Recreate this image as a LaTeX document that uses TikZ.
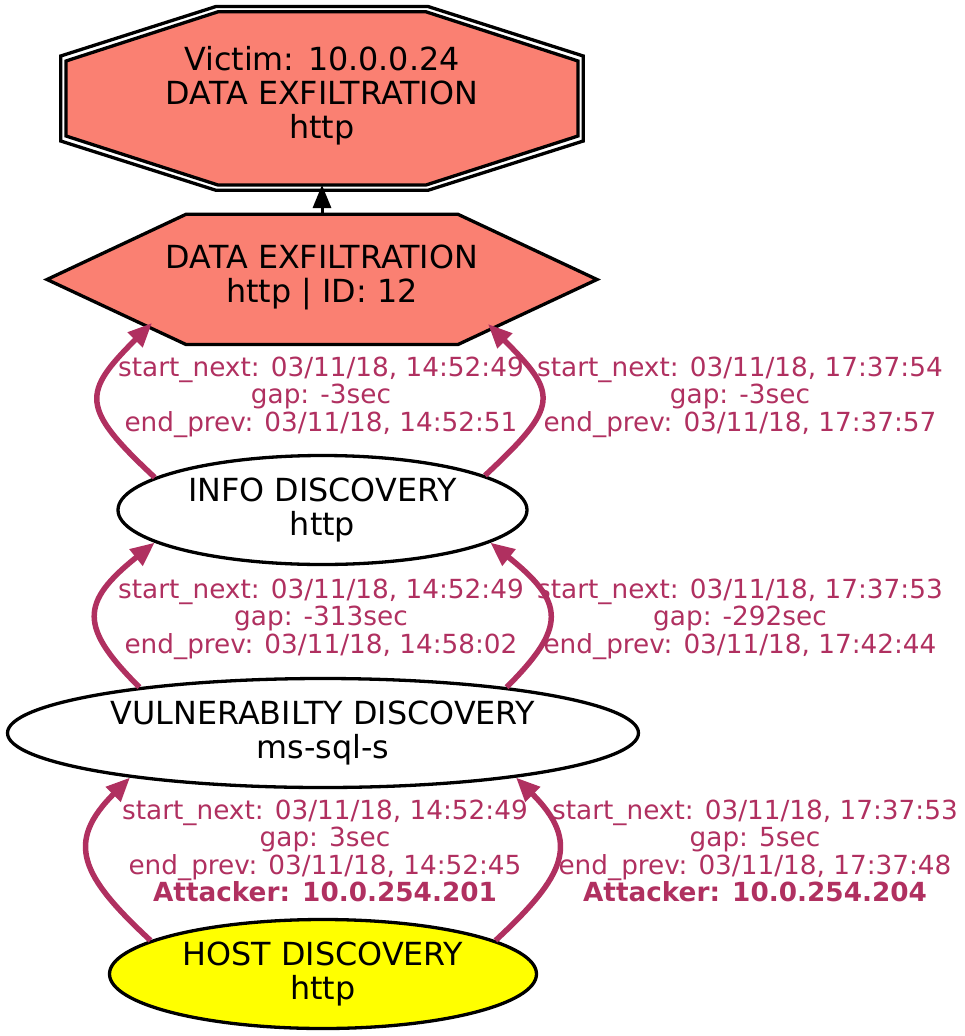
\documentclass[tikz,border=0pt]{standalone}
\usepackage{fontspec}
\setmainfont{DejaVu Sans}
\usetikzlibrary{shapes.geometric,arrows.meta}
\definecolor{salmonx}{HTML}{FA8072}
\definecolor{maroonx}{HTML}{B03060}
\definecolor{yellowx}{HTML}{FFFF00}
\begin{document}
\begin{tikzpicture}[x=1pt,y=-1pt,
  nodetext/.style={align=center,font=\fontsize{31.8}{34}\selectfont,inner sep=0},
  ell/.style={draw,ellipse,line width=3.3pt,minimum height=109pt,inner sep=0,nodetext},
  lbl/.style={align=center,text=maroonx,font=\fontsize{26.3}{27.4}\selectfont,inner sep=0},
  edgex/.style={draw=maroonx,line width=5.5pt,-{Triangle[length=24pt,width=20pt]}},
  blackarrow/.style={draw=black,line width=3pt,-{Triangle[length=23pt,width=18pt]}},
  polyline/.style={draw=black,line width=3.3pt,line join=miter},
]
\useasboundingbox (0,0) rectangle (964,1036);

% Victim double octagon
\filldraw[polyline,fill=white] (216,6.5) -- (428,6.5) -- (583.3,56) -- (583.3,141) -- (428,190.3) -- (216,190.3) -- (60.7,141) -- (60.7,56) -- cycle;
\filldraw[polyline,fill=salmonx] (218,11.8) -- (426,11.8) -- (578,61) -- (578,136) -- (426,185) -- (218,185) -- (66,136) -- (66,61) -- cycle;
\node[nodetext] (victim) at (322,96) {Victim: 10.0.0.24\\DATA EXFILTRATION\\http};
\coordinate (octBot) at (322,185);

% Data exfiltration hexagon
\filldraw[polyline,fill=salmonx] (186,214.3) -- (458,214.3) -- (597,279.5) -- (458,344.5) -- (186,344.5) -- (47,279.5) -- cycle;
\node[nodetext] (exfil) at (322,277) {DATA EXFILTRATION\\http | ID: 12};
\coordinate (hexTop) at (322,214.3);
\coordinate (hexL) at (152,323);
\coordinate (hexR) at (488,324);

% Ellipses
\node[ell,minimum width=409pt] (info) at (322.5,510) {INFO DISCOVERY\\http};
\node[ell,minimum width=631pt] (vuln) at (323,733) {VULNERABILTY DISCOVERY\\ms-sql-s};
\node[ell,minimum width=427pt,fill=yellowx] (host) at (323,974) {HOST DISCOVERY\\http};

% Connectors
\draw[blackarrow] (hexTop) -- (octBot);

\draw[edgex] (info.169) .. controls +(-75,-70) and +(-70,70) .. (hexL);
\draw[edgex] (info.12) .. controls +(75,-70) and +(70,70) .. (hexR);
\draw[edgex] (vuln.166) .. controls +(-60,-60) and +(-75,60) .. (info.191);
\draw[edgex] (vuln.14) .. controls +(60,-60) and +(75,60) .. (info.349);
\draw[edgex] (host.169) .. controls +(-70,-65) and +(-65,65) .. (vuln.193);
\draw[edgex] (host.11) .. controls +(70,-65) and +(65,65) .. (vuln.347);

% Labels
\node[lbl] (l1) at (321,397) {start\_next: 03/11/18, 14:52:49\\gap: -3sec\\end\_prev: 03/11/18, 14:52:51};
\node[lbl] (l2) at (740,397) {start\_next: 03/11/18, 17:37:54\\gap: -3sec\\end\_prev: 03/11/18, 17:37:57};
\node[lbl] (l3) at (321,619) {start\_next: 03/11/18, 14:52:49\\gap: -313sec\\end\_prev: 03/11/18, 14:58:02};
\node[lbl] (l4) at (740,619) {start\_next: 03/11/18, 17:37:53\\gap: -292sec\\end\_prev: 03/11/18, 17:42:44};
\node[lbl] (l5) at (325,851) {start\_next: 03/11/18, 14:52:49\\gap: 3sec\\end\_prev: 03/11/18, 14:52:45\\\textbf{Attacker: 10.0.254.201}};
\node[lbl] (l6) at (755,851) {start\_next: 03/11/18, 17:37:53\\gap: 5sec\\end\_prev: 03/11/18, 17:37:48\\\textbf{Attacker: 10.0.254.204}};
\end{tikzpicture}
\end{document}
